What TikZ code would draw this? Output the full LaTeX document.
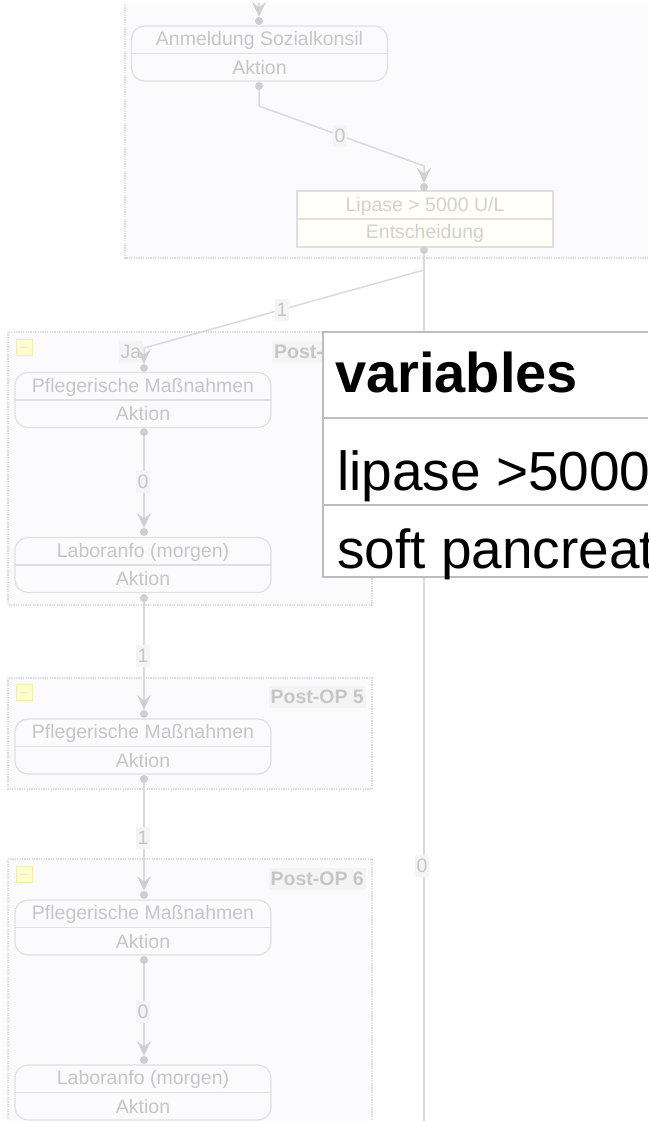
\documentclass[tikz,border=0pt]{standalone}
\usepackage{fontspec}
\setmainfont{Liberation Sans}
\usetikzlibrary{arrows.meta}
\definecolor{tint}{HTML}{FBFBFD}
\definecolor{grpline}{HTML}{DADADE}
\definecolor{boxline}{HTML}{E0E0E0}
\definecolor{txt}{HTML}{C6C6C6}
\definecolor{lin}{HTML}{DADADA}
\definecolor{dotc}{HTML}{CFCFCF}
\definecolor{lblbg}{HTML}{F4F4F4}
\definecolor{yel}{HTML}{FFFFCC}
\definecolor{yelb}{HTML}{EDEDB8}
\definecolor{decfill}{HTML}{FFFFF7}
\definecolor{varline}{HTML}{BDBDBD}
\tikzset{
  grpedge/.style={draw=grpline, line width=2pt, dash pattern=on 1.2pt off 1.2pt},
  actbox/.style={draw=boxline, line width=1.2pt, rounded corners=13pt,
    minimum width=256pt, minimum height=55pt, inner sep=0pt},
  decbox/.style={draw=boxline, line width=1.2pt, fill=decfill,
    minimum width=256pt, minimum height=56pt, inner sep=0pt},
  boxtext/.style={text=txt, font=\fontsize{19.5}{22}\selectfont, inner sep=0pt},
  dottip/.style={circle, fill=dotc, minimum size=8pt, inner sep=0pt},
  conn/.style={draw=lin, line width=1.5pt},
  arr/.style={conn, -{Stealth[length=15pt, width=14pt, inset=6pt, fill=dotc, color=dotc]}},
  elabel/.style={fill=lblbg, text=txt, font=\fontsize{19.5}{22}\selectfont,
    inner xsep=2pt, inner ysep=4pt},
  grptitle/.style={fill=lblbg, text=txt, font=\bfseries\fontsize{19.5}{22}\selectfont,
    inner xsep=2pt, inner ysep=4pt},
  collapse/.style={fill=yel, draw=yelb, line width=1pt, minimum size=16pt, inner sep=0pt,
    path picture={\draw[draw=yelb!80!black!40, line width=1pt]
      ([xshift=-4pt]path picture bounding box.center) -- ([xshift=4pt]path picture bounding box.center);}},
  varrule/.style={draw=varline, line width=2pt},
  vartitle/.style={anchor=base west, inner sep=0pt, font=\bfseries\fontsize{56}{60}\selectfont},
  varrow/.style={anchor=base west, inner sep=0pt, font=\fontsize{55}{60}\selectfont},
}
\begin{document}
\begin{tikzpicture}[x=1pt, y=-1pt]
\useasboundingbox (0,0) rectangle (648,1121);
\clip (0,0) rectangle (648,1121);
\fill[white] (0,0) rectangle (648,1121);

% outer container of the first steps
\fill[tint] (125,5) rectangle (648,258);
\draw[grpedge] (125,5) -- (125,258) -- (648,258);

% post-operative day groups
\fill[tint] (8,332) rectangle (372,605);
\draw[grpedge] (8,332) rectangle (372,605);
\fill[tint] (8,678) rectangle (372,789);
\draw[grpedge] (8,678) rectangle (372,789);
\fill[tint] (8,859) rectangle (372,1135);
\draw[grpedge] (8,859) rectangle (372,1135);

\node[collapse] (c4) at (24,347) {};
\node[collapse] (c5) at (24,692) {};
\node[collapse] (c6) at (24,874) {};

\node[grptitle, anchor=west] (t4) at (272,352) {Post-};
\node[grptitle, anchor=east] (t5) at (366,697) {Post-OP 5};
\node[grptitle, anchor=east] (t6) at (366,879) {Post-OP 6};
\node[elabel] (ja) at (131,352) {Ja};

% action and decision boxes
\node[actbox] (a0) at (259.5,53.5) {};
\node[decbox] (dec) at (425,219) {};
\node[actbox] (p4) at (143,400) {};
\node[actbox] (l4) at (143,565) {};
\node[actbox] (p5) at (143,746.5) {};
\node[actbox] (p6) at (143,927.5) {};
\node[actbox] (l6) at (143,1092.5) {};

\foreach \n in {a0,dec,p4,l4,p5,p6,l6} {
  \draw[draw=boxline, line width=1.2pt] (\n.west) -- (\n.east);
}

\node[boxtext] at ([yshift=13pt]a0.center) {Anmeldung Sozialkonsil};
\node[boxtext] at ([yshift=-14pt]a0.center) {Aktion};
\node[boxtext, text=txt!80] at ([yshift=13pt]dec.center) {Lipase > 5000 U/L};
\node[boxtext, text=txt!80] at ([yshift=-14pt]dec.center) {Entscheidung};
\foreach \n in {p4,p5,p6} {
  \node[boxtext] at ([yshift=13pt]\n.center) {Pflegerische Maßnahmen};
  \node[boxtext] at ([yshift=-14pt]\n.center) {Aktion};
}
\foreach \n in {l4,l6} {
  \node[boxtext] at ([yshift=13pt]\n.center) {Laboranfo (morgen)};
  \node[boxtext] at ([yshift=-14pt]\n.center) {Aktion};
}

% ports
\node[dottip] (a0in) at (259,21) {};
\node[dottip] (a0out) at (259,86) {};
\node[dottip] (decin) at (424,187) {};
\node[dottip] (decout) at (424,250) {};
\node[dottip] (p4in) at (144,368) {};
\node[dottip] (p4out) at (144,432) {};
\node[dottip] (l4in) at (144,532) {};
\node[dottip] (l4out) at (144,598) {};
\node[dottip] (p5in) at (144,714) {};
\node[dottip] (p5out) at (144,779) {};
\node[dottip] (p6in) at (144,895) {};
\node[dottip] (p6out) at (144,960) {};
\node[dottip] (l6in) at (144,1060) {};
\node[dottip] (l6out) at (144,1125) {};

\coordinate (topin) at (259,3);
\coordinate (bendA) at (259,106);
\coordinate (bendB) at (424,166);
\coordinate (split) at (424,270);
\coordinate (bend4) at (144,348);
\coordinate (down) at (424,1135);

% connectors
\draw[arr] (topin) -- (a0in.north);
\draw[arr] (a0out) -- (bendA) -- (bendB) -- (decin.north);
\draw[conn] (decout) -- (down);
\draw[arr] (split) -- (bend4) -- (p4in.north);
\draw[arr] (p4out) -- (l4in.north);
\draw[arr] (l4out) -- (p5in.north);
\draw[arr] (p5out) -- (p6in.north);
\draw[arr] (p6out) -- (l6in.north);

% connector labels
\node[elabel] (e1) at (340,136) {0};
\node[elabel] (e2) at (282,310) {1};
\node[elabel] (e3) at (143,482) {0};
\node[elabel] (e4) at (143,656) {1};
\node[elabel] (e5) at (143,838) {1};
\node[elabel] (e6) at (143,1012) {0};
\node[elabel] (e7) at (422,866) {0};

% variables table
\path[fill=white] (323,332) rectangle (680,577);
\draw[varrule] (680,332) -- (323,332) -- (323,577) -- (680,577);
\draw[varrule] (323,418) -- (680,418);
\draw[varrule] (323,505) -- (680,505);
\node[vartitle] (vt) at (335,392) {variables};
\node[varrow] (v1) at (337,490) {lipase >5000};
\node[varrow] (v2) at (337,568) {soft pancreat};
\end{tikzpicture}
\end{document}
